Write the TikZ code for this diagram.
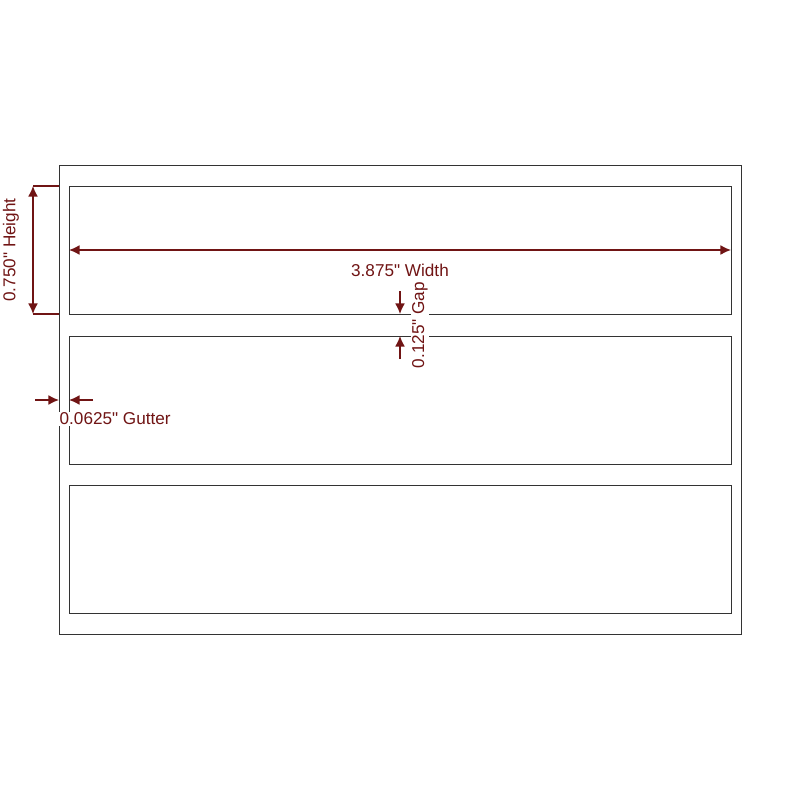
\documentclass[tikz,border=0pt]{standalone}
\usepackage{fontspec}
\setmainfont{Liberation Sans}[Ligatures=TeXOff]
\usetikzlibrary{arrows.meta}
\definecolor{dimred}{RGB}{112,20,20}

\begin{document}
\begin{tikzpicture}[x=0.25mm, y=-0.25mm,
    box/.style = {draw=black!80, line width=0.7pt},
    dimline/.style = {draw=dimred, line width=1pt},
    dimtip/.style = {dimline, -{Latex[length=7.5pt,width=7pt]}},
    dimboth/.style = {dimline, {Latex[length=7.5pt,width=7pt]}-{Latex[length=7.5pt,width=7pt]}},
    dimtext/.style = {text=dimred, font=\fontsize{12.2}{14}\selectfont, inner sep=1pt}]
        \useasboundingbox (0,0) rectangle (800,800);

        % sheet and labels
        \draw[box] (59,165) rectangle (741,634);
        \foreach \y in {186,336,485}
            \draw[box] (69,\y) rectangle (731,\y+128);

        % height
        \coordinate (h_top) at (33,186);
        \coordinate (h_bot) at (33,314);
        \draw[dimline] (h_top) -- (59,186);
        \draw[dimline] (h_bot) -- (59,314);
        \draw[dimboth] (h_top) -- (h_bot);
        \node[dimtext, rotate=90] (l_height) at (11,250) {0.750" Height};

        % width
        \coordinate (w_left) at (69,250);
        \coordinate (w_right) at (731,250);
        \draw[dimboth] (w_left) -- (w_right);
        \node[dimtext] (l_width) at (400,270) {3.875" Width};

        % gap
        \coordinate (g_a) at (400,291);
        \coordinate (g_b) at (400,314);
        \coordinate (g_c) at (400,359);
        \coordinate (g_d) at (400,336);
        \draw[dimtip] (g_a) -- (g_b);
        \draw[dimtip] (g_c) -- (g_d);
        \node[dimtext, rotate=90, fill=white] (l_gap) at (420,325) {0.125" Gap};

        % gutter
        \coordinate (u_a) at (35,400);
        \coordinate (u_b) at (59,400);
        \coordinate (u_c) at (93,400);
        \coordinate (u_d) at (69,400);
        \draw[dimtip] (u_a) -- (u_b);
        \draw[dimtip] (u_c) -- (u_d);
        \node[dimtext, fill=white, anchor=west] (l_gutter) at (58,419) {0.0625" Gutter};
    \end{tikzpicture}
\end{document}
